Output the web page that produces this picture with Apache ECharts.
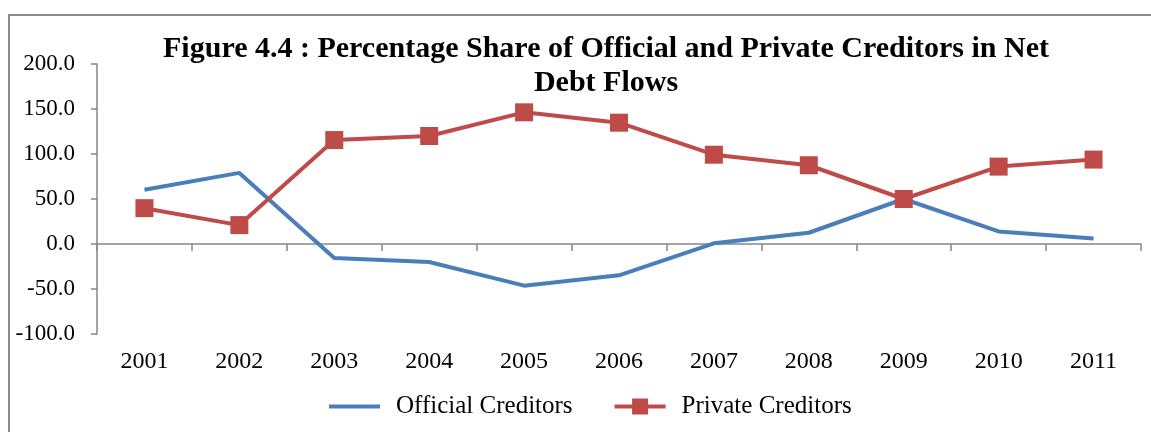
<!DOCTYPE html>
<html>
<head>
<meta charset="utf-8">
<script src="https://cdn.jsdelivr.net/npm/echarts@6/dist/echarts.min.js"></script>
<style>
  html, body { margin: 0; padding: 0; background: #fff; }
  #chart { width: 1151px; height: 432px; }
</style>
</head>
<body>
<div id="chart"></div>
<script>
// Net debt flows: share of official vs private creditors (%)
const years = ['2001', '2002', '2003', '2004', '2005', '2006', '2007', '2008', '2009', '2010', '2011'];
const officialCreditors = [60.2, 79.0, -15.5, -20.0, -46.3, -34.8, 0.8, 12.5, 50.0, 14.0, 6.2];
const privateCreditors = [39.8, 21.0, 115.5, 120.0, 146.3, 134.8, 99.2, 87.5, 50.0, 86.0, 93.8];
const yTicks = { min: -100, max: 200, step: 50 };

const FONT = '"Liberation Serif", "Times New Roman", serif';
const AXIS_GRAY = '#868686';
const BLUE = '#4A7EBB';
const RED = '#BE4B48';

const chart = echarts.init(document.getElementById('chart'), null, { renderer: 'canvas' });

chart.setOption({
  backgroundColor: '#fff',
  animation: false,
  textStyle: { fontFamily: FONT },
  graphic: [
    {
      type: 'polyline',
      shape: { points: [[9, 432], [9, 15], [1151, 15]] },
      style: { stroke: '#8c8c8c', lineWidth: 2, fill: null },
      silent: true
    },
    {
      type: 'text',
      style: {
        x: 606, y: 32,
        text: 'Figure 4.4 : Percentage Share of Official and Private Creditors in Net\nDebt Flows',
        fontFamily: FONT,
        fontWeight: 'bold',
        fontSize: 30,
        lineHeight: 34,
        fill: '#000',
        align: 'center',
        verticalAlign: 'top'
      },
      silent: true
    }
  ],
  grid: { left: 97, right: 10, top: 64, bottom: 98, containLabel: false },
  legend: {
    top: 389,
    left: 322,
    itemWidth: 51,
    itemHeight: 20,
    itemGap: 40,
    lineStyle: { width: 4 },
    textStyle: { fontFamily: FONT, fontSize: 25, color: '#000', padding: [0, 0, 0, 11] },
    data: [
      { name: 'Official Creditors', itemStyle: { opacity: 0 } },
      { name: 'Private Creditors' }
    ]
  },
  xAxis: [
    {
      type: 'category',
      data: years,
      boundaryGap: true,
      axisLine: { onZero: true, lineStyle: { color: AXIS_GRAY, width: 1.5 } },
      axisTick: { show: true, inside: false, length: 7, interval: 0, lineStyle: { color: AXIS_GRAY, width: 1.5 } },
      axisLabel: { show: false },
      splitLine: { show: false }
    },
    {
      type: 'category',
      data: years,
      position: 'bottom',
      boundaryGap: true,
      axisLine: { show: false, onZero: false },
      axisTick: { show: false },
      axisLabel: { show: true, interval: 0, margin: 16, fontFamily: FONT, fontSize: 24, color: '#000' },
      splitLine: { show: false }
    }
  ],
  yAxis: {
    type: 'value',
    min: yTicks.min,
    max: yTicks.max,
    interval: yTicks.step,
    axisLine: { show: true, lineStyle: { color: AXIS_GRAY, width: 1.5 } },
    axisTick: { show: true, length: 6, lineStyle: { color: AXIS_GRAY, width: 1.5 } },
    axisLabel: {
      margin: 22,
      fontFamily: FONT,
      fontSize: 23,
      color: '#000',
      formatter: v => v.toFixed(1)
    },
    splitLine: { show: false }
  },
  series: [
    {
      name: 'Official Creditors',
      type: 'line',
      data: officialCreditors,
      symbol: 'none',
      lineStyle: { color: BLUE, width: 4 },
      itemStyle: { color: BLUE },
      z: 2
    },
    {
      name: 'Private Creditors',
      type: 'line',
      data: privateCreditors,
      symbol: 'rect',
      symbolSize: 18,
      showSymbol: true,
      lineStyle: { color: RED, width: 4 },
      itemStyle: { color: RED },
      z: 3
    }
  ]
});
</script>
</body>
</html>
